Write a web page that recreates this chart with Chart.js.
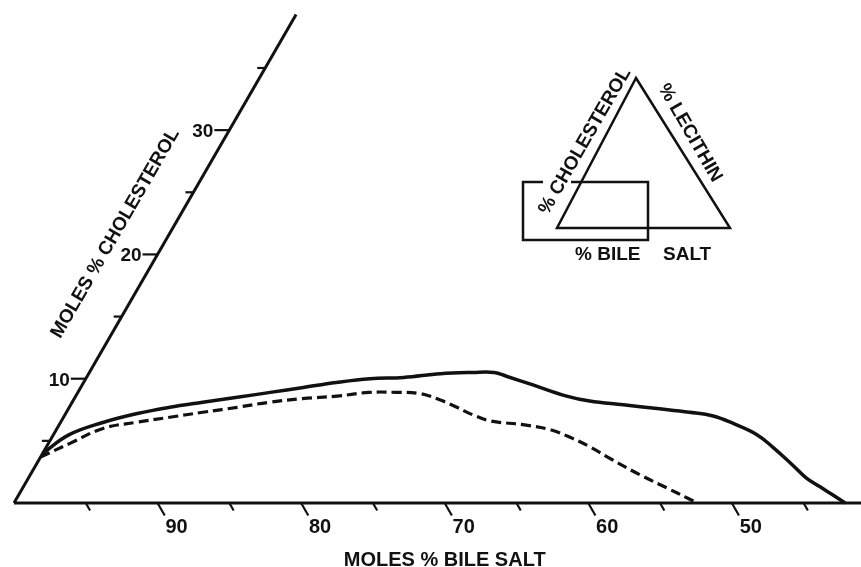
<!DOCTYPE html>
<html>
<head>
<meta charset="utf-8">
<script src="https://cdn.jsdelivr.net/npm/chart.js@4.4.1/dist/chart.umd.min.js"></script>
<style>
  html, body { margin: 0; padding: 0; background: #fff; }
  #wrap { width: 861px; height: 567px; }
</style>
</head>
<body>
<div id="wrap"><canvas id="chart"></canvas></div>
<script>
// values, as ternary coordinates
// (moles % bile salt, moles % cholesterol; lecithin is the rest)
const solidBileSalt = [96.0, 93.4, 90.5, 87.8, 85.3, 82.8, 80.2, 77.7, 75.2, 72.7, 70.2, 67.8, 65.1, 62.8, 61.3, 60.6, 59.1, 57.2, 55.8, 53.6, 51.4, 49.3, 47.8, 46.7, 45.5, 44.9, 44.3, 43.8, 43.2, 42.6, 42.1];
const solidCholesterol = [4.0, 5.5, 6.5, 7.2, 7.7, 8.1, 8.5, 8.9, 9.3, 9.7, 10.0, 10.1, 10.4, 10.5, 10.5, 10.2, 9.5, 8.6, 8.2, 7.9, 7.6, 7.3, 7.0, 6.4, 5.5, 4.5, 3.2, 2.0, 1.3, 0.6, 0];
const dashedBileSalt = [96.3, 93.7, 90.8, 88.2, 85.7, 83.2, 80.6, 78.2, 75.7, 73.2, 70.8, 68.9, 67.3, 66.2, 65.3, 64.5, 63.5, 61.4, 59.7, 58.5, 57.6, 56.6, 55.3, 53.9, 52.9, 52.4];
const dashedCholesterol = [3.7, 4.8, 6.0, 6.5, 6.9, 7.3, 7.7, 8.1, 8.4, 8.6, 8.9, 8.9, 8.8, 8.3, 7.7, 7.1, 6.6, 6.3, 5.9, 5.2, 4.5, 3.5, 2.3, 1.2, 0.4, 0];

const bileSaltTicks = [95, 90, 85, 80, 75, 70, 65, 60, 55, 50, 45];
const bileSaltLabels = [90, 80, 70, 60, 50];
const cholesterolTicks = [5, 10, 15, 20, 25, 30, 35];
const cholesterolLabels = [10, 20, 30];
const bileSaltEnd = 41;
const cholesterolEnd = 39.3;

const ink = '#111';
const font = (size) => `bold ${size}px "Liberation Sans", Arial, sans-serif`;

// equilateral ternary: horizontal position shifts by half the cholesterol value
const toPlot = (b, c) => ({ x: b + c / 2, y: c });
const series = (bs, cs) => bs.map((b, i) => toPlot(b, cs[i]));

const ternaryAxes = {
  id: 'ternaryAxes',
  afterDatasetsDraw(chart) {
    const { ctx, scales: { x, y } } = chart;
    const px = (b, c) => x.getPixelForValue(b + c / 2);
    const py = (c) => y.getPixelForValue(c);

    ctx.save();
    ctx.strokeStyle = ink;
    ctx.fillStyle = ink;
    ctx.lineWidth = 2.2;
    ctx.lineCap = 'butt';

    // cholesterol ticks on the slanted side
    ctx.font = font(19);
    ctx.textAlign = 'right';
    ctx.textBaseline = 'alphabetic';
    cholesterolTicks.forEach(c => {
      const major = cholesterolLabels.includes(c);
      const x0 = px(100 - c, c), y0 = py(c);
      ctx.beginPath();
      ctx.moveTo(x0, y0);
      ctx.lineTo(x0 - (major ? 15 : 8), y0);
      ctx.stroke();
      if (major) ctx.fillText(String(c), x0 - 16, y0 + 7);
    });

    // bile salt ticks follow the lines of constant bile salt
    ctx.font = font(20);
    ctx.textAlign = 'center';
    bileSaltTicks.forEach(b => {
      const major = bileSaltLabels.includes(b);
      const d = major ? 1.0 : 0.6;
      ctx.beginPath();
      ctx.moveTo(px(b, 0), py(0));
      ctx.lineTo(px(b, -d), py(-d));
      ctx.stroke();
      if (major) ctx.fillText(String(b), px(b, 0) + 19, py(0) + 30);
    });

    // axis titles
    ctx.fillText('MOLES % BILE SALT', px(70, 0), py(0) + 63);

    const ax0 = px(100, 0), ay0 = py(0);
    const ax1 = px(100 - cholesterolEnd, cholesterolEnd), ay1 = py(cholesterolEnd);
    const ang = Math.atan2(ay1 - ay0, ax1 - ax0);
    const mid = 19.8;
    const cx = px(100 - mid, mid) + 47 * Math.sin(ang);
    const cy = py(mid) - 47 * Math.cos(ang);
    ctx.save();
    ctx.translate(cx, cy);
    ctx.rotate(ang);
    ctx.font = font(19);
    ctx.textBaseline = 'middle';
    ctx.fillText('MOLES % CHOLESTEROL', 0, 0);
    ctx.restore();

    // key diagram
    ctx.lineWidth = 2.5;
    ctx.beginPath();
    ctx.moveTo(636, 78);
    ctx.lineTo(730, 228);
    ctx.lineTo(557, 228);
    ctx.closePath();
    ctx.stroke();

    ctx.beginPath();
    ctx.moveTo(543, 182);
    ctx.lineTo(523, 182);
    ctx.lineTo(523, 240);
    ctx.lineTo(648, 240);
    ctx.lineTo(648, 182);
    ctx.lineTo(571, 182);
    ctx.stroke();

    ctx.font = font(19);
    ctx.textAlign = 'center';
    ctx.textBaseline = 'middle';
    ctx.save();
    ctx.translate(585, 141);
    ctx.rotate(-Math.PI / 3);
    ctx.fillText('% CHOLESTEROL', 0, 0);
    ctx.restore();

    ctx.save();
    ctx.translate(690, 133);
    ctx.rotate(Math.PI / 3);
    ctx.fillText('% LECITHIN', 0, 0);
    ctx.restore();

    ctx.textAlign = 'left';
    ctx.textBaseline = 'alphabetic';
    ctx.fillText('% BILE', 575, 260);
    ctx.fillText('SALT', 663, 260);

    ctx.restore();
  }
};

const lineStyle = {
  borderColor: ink,
  pointRadius: 0,
  fill: false,
  clip: false
};

new Chart(document.getElementById('chart'), {
  type: 'line',
  data: {
    datasets: [
      { ...lineStyle, label: 'bile salt axis', data: [toPlot(100, 0), toPlot(bileSaltEnd, 0)], borderWidth: 3, tension: 0 },
      { ...lineStyle, label: 'cholesterol axis', data: [toPlot(100, 0), toPlot(100 - cholesterolEnd, cholesterolEnd)], borderWidth: 3, tension: 0 },
      { ...lineStyle, label: 'solid', data: series(solidBileSalt, solidCholesterol), borderWidth: 3.5, tension: 0.4 },
      { ...lineStyle, label: 'dashed', data: series(dashedBileSalt, dashedCholesterol), borderWidth: 3.2, borderDash: [10, 5], tension: 0.4 }
    ]
  },
  options: {
    responsive: true,
    maintainAspectRatio: false,
    animation: false,
    layout: { padding: { left: 14, right: 0, top: 0, bottom: 64 } },
    plugins: { legend: { display: false }, tooltip: { enabled: false } },
    scales: {
      x: { type: 'linear', reverse: true, min: bileSaltEnd, max: 100, display: false },
      y: { type: 'linear', min: 0, max: 40.47, display: false }
    }
  },
  plugins: [ternaryAxes]
});
</script>
</body>
</html>
